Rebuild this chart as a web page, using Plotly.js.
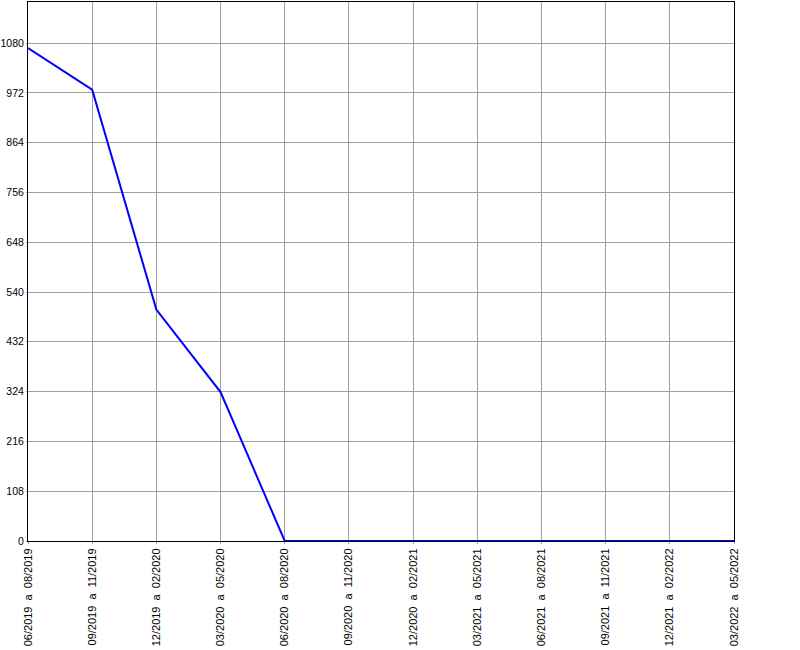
<!DOCTYPE html>
<html>
<head>
<meta charset="utf-8">
<script src="https://cdn.plot.ly/plotly-3.0.1.min.js"></script>
<style>html,body{margin:0;padding:0;background:#fff;}#chart{width:800px;height:650px;}</style>
</head>
<body>
<div id="chart"></div>
<script>
const categories = [
  "06/2019 a 08/2019", "09/2019 a 11/2019", "12/2019 a 02/2020", "03/2020 a 05/2020",
  "06/2020 a 08/2020", "09/2020 a 11/2020", "12/2020 a 02/2021", "03/2021 a 05/2021",
  "06/2021 a 08/2021", "09/2021 a 11/2021", "12/2021 a 02/2022", "03/2022 a 05/2022"
];
const values = [1069, 979, 502, 323, 0, 0, 0, 0, 0, 0, 0, 0];
const yTicks = [0, 108, 216, 324, 432, 540, 648, 756, 864, 972, 1080];

const labels = categories.map(c => c.split(" ").join("\u00a0\u00a0"));

Plotly.newPlot("chart", [{
  type: "scatter",
  mode: "lines",
  x: labels,
  y: values,
  line: {color: "#0000ff", width: 2},
  hoverinfo: "x+y"
}], {
  width: 800, height: 650,
  margin: {l: 28, r: 66, t: 2, b: 109, pad: 0},
  paper_bgcolor: "#ffffff",
  plot_bgcolor: "#ffffff",
  showlegend: false,
  font: {family: "Liberation Sans, Arial, sans-serif", size: 11, color: "#000"},
  xaxis: {
    type: "category",
    range: [0, categories.length - 1],
    tickangle: -90,
    showgrid: true, gridcolor: "#a0a0a0", gridwidth: 1,
    showline: true, linecolor: "#000", linewidth: 1, mirror: true,
    ticks: "outside", ticklen: 2, tickcolor: "#a0a0a0",
    zeroline: false,
    tickfont: {size: 11}
  },
  yaxis: {
    range: [0, 1169],
    tickmode: "array", tickvals: yTicks, ticktext: yTicks.map(String),
    showgrid: true, gridcolor: "#a0a0a0", gridwidth: 1,
    showline: true, linecolor: "#000", linewidth: 1, mirror: true,
    ticks: "outside", ticklen: 1, tickcolor: "#a0a0a0",
    zeroline: false,
    tickfont: {size: 10.5}
  }
}, {displayModeBar: false, staticPlot: true});
</script>
</body>
</html>
